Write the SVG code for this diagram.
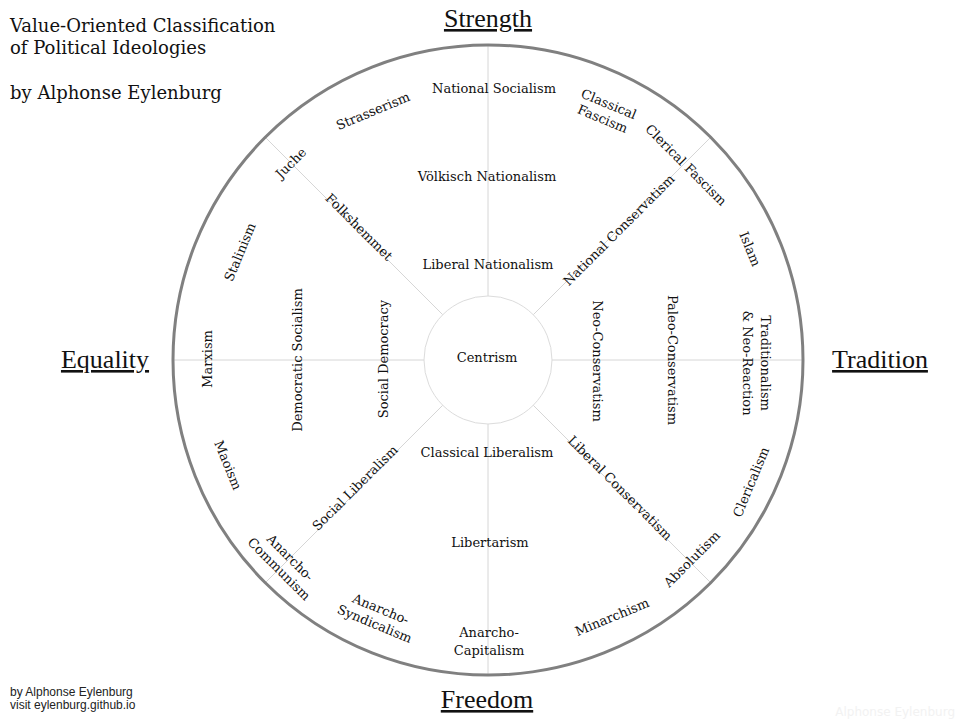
<svg xmlns="http://www.w3.org/2000/svg" width="960" height="720" viewBox="0 0 960 720">
<style>
.lbl{font-family:"DejaVu Serif",serif;font-size:13px;fill:#111;text-anchor:middle}
.rl{font-family:"DejaVu Serif",serif;font-size:13px;fill:#111;text-anchor:middle;dominant-baseline:central}
.hd{font-family:"Liberation Serif",serif;font-size:26px;fill:#111;text-anchor:middle;text-decoration:underline}
.ttl{font-family:"DejaVu Serif",serif;font-size:18px;fill:#111}
.grid{stroke:#d6d6d6;stroke-width:1;fill:none}
</style>
<rect width="960" height="720" fill="#fff"/>
<g id="title">
<text class="ttl" x="10" y="32">Value-Oriented Classification</text>
<text class="ttl" x="10" y="54">of Political Ideologies</text>
<text class="ttl" x="10" y="99">by Alphonse Eylenburg</text>
</g>
<g id="connectors">
<line class="grid" x1="488" y1="45" x2="488" y2="296"/>
<line class="grid" x1="488" y1="424" x2="488" y2="675"/>
<line class="grid" x1="173" y1="360" x2="424" y2="360"/>
<line class="grid" x1="552" y1="360" x2="803" y2="360"/>
<line class="grid" x1="533.3" y1="314.7" x2="710.7" y2="137.3"/>
<line class="grid" x1="442.7" y1="314.7" x2="265.3" y2="137.3"/>
<line class="grid" x1="533.3" y1="405.3" x2="710.7" y2="582.7"/>
<line class="grid" x1="442.7" y1="405.3" x2="265.3" y2="582.7"/>
</g>
<g id="outer-ring"><circle cx="488" cy="360" r="315" fill="none" stroke="#808080" stroke-width="3"/></g>
<g id="centrism">
<circle cx="488" cy="360" r="64" fill="none" stroke="#dcdcdc" stroke-width="1"/>
<text class="lbl" x="487" y="362">Centrism</text>
</g>
<g id="headings">
<text class="hd" x="488" y="27">Strength</text>
<text class="hd" x="105" y="368">Equality</text>
<text class="hd" x="880" y="368">Tradition</text>
<text class="hd" x="487" y="708">Freedom</text>
</g>
<g id="national-socialism"><text class="lbl" x="494" y="93">National Socialism</text></g>
<g id="volkisch-nationalism"><text class="lbl" x="487" y="181">Völkisch Nationalism</text></g>
<g id="liberal-nationalism"><text class="lbl" x="488" y="269">Liberal Nationalism</text></g>
<g id="classical-liberalism"><text class="lbl" x="487" y="457">Classical Liberalism</text></g>
<g id="libertarism"><text class="lbl" x="490" y="547">Libertarism</text></g>
<g id="anarcho-capitalism"><text class="lbl" x="489" y="637"><tspan x="489">Anarcho-</tspan><tspan x="489" dy="18">Capitalism</tspan></text></g>
<g id="strasserism" transform="translate(373,111) rotate(-22.5)"><text class="rl">Strasserism</text></g>
<g id="classical-fascism" transform="translate(606,111) rotate(22.5)"><text class="rl"><tspan x="0" y="-8">Classical</tspan><tspan x="0" y="8">Fascism</tspan></text></g>
<g id="clerical-fascism" transform="translate(686,165) rotate(45)"><text class="rl">Clerical Fascism</text></g>
<g id="islam" transform="translate(750,249) rotate(67.5)"><text class="rl">Islam</text></g>
<g id="traditionalism" transform="translate(757,363) rotate(90)"><text class="rl"><tspan x="0" y="-9">Traditionalism</tspan><tspan x="0" y="9">&amp; Neo-Reaction</tspan></text></g>
<g id="paleo-conservatism" transform="translate(672,360) rotate(90)"><text class="rl">Paleo-Conservatism</text></g>
<g id="neo-conservatism" transform="translate(597,361) rotate(90)"><text class="rl">Neo-Conservatism</text></g>
<g id="national-conservatism" transform="translate(619,230) rotate(-45)"><text class="rl">National Conservatism</text></g>
<g id="liberal-conservatism" transform="translate(620,488) rotate(45)"><text class="rl">Liberal Conservatism</text></g>
<g id="clericalism" transform="translate(751,482) rotate(-67.5)"><text class="rl">Clericalism</text></g>
<g id="absolutism" transform="translate(692,559) rotate(-45)"><text class="rl">Absolutism</text></g>
<g id="minarchism" transform="translate(612,617) rotate(-22.5)"><text class="rl">Minarchism</text></g>
<g id="anarcho-syndicalism" transform="translate(378,616) rotate(22.5)"><text class="rl"><tspan x="0" y="-8">Anarcho-</tspan><tspan x="0" y="8">Syndicalism</tspan></text></g>
<g id="anarcho-communism" transform="translate(285,563) rotate(45)"><text class="rl"><tspan x="0" y="-8">Anarcho-</tspan><tspan x="0" y="8">Communism</tspan></text></g>
<g id="social-liberalism" transform="translate(355,488) rotate(-45)"><text class="rl">Social Liberalism</text></g>
<g id="maoism" transform="translate(228,465) rotate(67.5)"><text class="rl">Maoism</text></g>
<g id="marxism" transform="translate(207,359) rotate(-90)"><text class="rl">Marxism</text></g>
<g id="democratic-socialism" transform="translate(297,360) rotate(-90)"><text class="rl">Democratic Socialism</text></g>
<g id="social-democracy" transform="translate(383,359) rotate(-90)"><text class="rl">Social Democracy</text></g>
<g id="stalinism" transform="translate(240,252) rotate(-67.5)"><text class="rl">Stalinism</text></g>
<g id="juche" transform="translate(291,163) rotate(-45)"><text class="rl">Juche</text></g>
<g id="folkshemmet" transform="translate(359,227) rotate(45)"><text class="rl">Folkshemmet</text></g>
<g id="credits">
<text x="10" y="696" font-family="Liberation Sans, sans-serif" font-size="12" fill="#222">by Alphonse Eylenburg</text>
<text x="10" y="709" font-family="Liberation Sans, sans-serif" font-size="12" fill="#222">visit eylenburg.github.io</text>
<text x="955" y="716" font-family="DejaVu Sans, sans-serif" font-size="12" fill="#f2f2f2" text-anchor="end">Alphonse Eylenburg</text>
</g>
</svg>
